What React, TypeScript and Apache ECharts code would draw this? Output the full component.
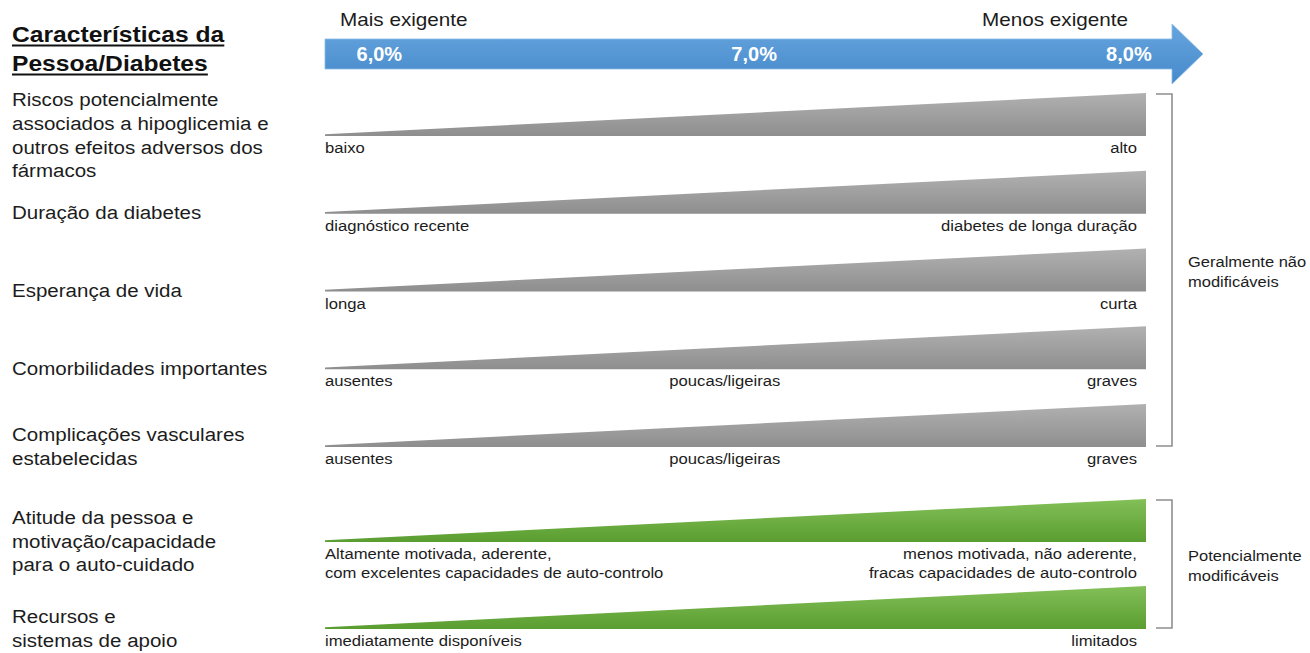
import React, { useEffect, useRef } from 'react';
import * as echarts from 'echarts';

// ---------- data ----------
const titleLines = ['Características da', 'Pessoa/Diabetes'];
const scaleEndLabels = ['Mais exigente', 'Menos exigente'];
const hba1cTicks = [6.0, 7.0, 8.0];
const hba1cRange = [5.855, 8.115];

const rowLabels = [
  'Riscos potencialmente\nassociados a hipoglicemia e\noutros efeitos adversos dos\nfármacos',
  'Duração da diabetes',
  'Esperança de vida',
  'Comorbilidades importantes',
  'Complicações vasculares\nestabelecidas',
  'Atitude da pessoa e\nmotivação/capacidade\npara o auto-cuidado',
  'Recursos e\nsistemas de apoio',
];
const lowLabels = [
  'baixo',
  'diagnóstico recente',
  'longa',
  'ausentes',
  'ausentes',
  'Altamente motivada, aderente,\ncom excelentes capacidades de auto-controlo',
  'imediatamente disponíveis',
];
const midLabels = ['', '', '', 'poucas/ligeiras', 'poucas/ligeiras', '', ''];
const highLabels = [
  'alto',
  'diabetes de longa duração',
  'curta',
  'graves',
  'graves',
  'menos motivada, não aderente,\nfracas capacidades de auto-controlo',
  'limitados',
];
const rowGroup = [0, 0, 0, 0, 0, 1, 1];
const groupLabels = ['Geralmente não\nmodificáveis', 'Potencialmente\nmodificáveis'];
const wedgeStart = [0.04, 0.04, 0.04, 0.04, 0.04, 0.04, 0.04];
const wedgeEnd = [1, 1, 1, 1, 1, 1, 1];

// ---------- layout / style ----------
const FONT = '"Liberation Sans", Arial, Helvetica, sans-serif';
const WEDGE_H = 43;
const LABEL_X = 12;
const MID_FRAC = 0.487;
const TEXT_COLOR = '#1c1c1c';
const groupColors = [
  ['#b1b1b1', '#8e8e8e'],
  ['#83c058', '#5a9d30'],
];

function measure(text: string, font: string) {
  const c = document.createElement('canvas').getContext('2d') as CanvasRenderingContext2D;
  c.font = font;
  return c.measureText(text).width;
}

function wedgeRender(group: number, rows: number[]) {
  return (params: any, api: any) => {
    const k = params.dataIndex;
    const gi = rows[k];
    const band = api.size([0, 1])[1];
    const c0 = api.coord([0, k]);
    const c1 = api.coord([api.value(0), k]);
    const bottom = c0[1] + band / 2;
    const x0 = c0[0];
    const x1 = c1[0];
    const [cTop, cBot] = groupColors[group];
    const children: any[] = [
      {
        type: 'polygon',
        shape: {
          points: [
            [x0, bottom - WEDGE_H * wedgeStart[gi]],
            [x1, bottom - WEDGE_H * wedgeEnd[gi]],
            [x1, bottom],
            [x0, bottom],
          ],
        },
        style: {
          fill: new echarts.graphic.LinearGradient(0, 0, 0, 1, [
            { offset: 0, color: cTop },
            { offset: 1, color: cBot },
          ]),
        },
      },
      {
        type: 'text',
        x: LABEL_X,
        y: bottom - 1,
        scaleX: 1.08,
        style: {
          text: rowLabels[gi],
          fill: TEXT_COLOR,
          fontSize: 19,
          fontFamily: FONT,
          lineHeight: 23.7,
          align: 'left',
          verticalAlign: 'middle',
        },
      },
      {
        type: 'text',
        x: x0,
        y: bottom + 2.5,
        scaleX: 1.11,
        style: {
          text: lowLabels[gi],
          fill: TEXT_COLOR,
          fontSize: 15,
          fontFamily: FONT,
          lineHeight: 19,
          align: 'left',
          verticalAlign: 'top',
        },
      },
      {
        type: 'text',
        x: x1 - 9,
        y: bottom + 2.5,
        scaleX: 1.11,
        style: {
          text: highLabels[gi],
          fill: TEXT_COLOR,
          fontSize: 15,
          fontFamily: FONT,
          lineHeight: 19,
          align: 'right',
          verticalAlign: 'top',
        },
      },
    ];
    if (midLabels[gi]) {
      children.push({
        type: 'text',
        x: x0 + (x1 - x0) * MID_FRAC,
        y: bottom + 2.5,
        scaleX: 1.11,
        style: {
          text: midLabels[gi],
          fill: TEXT_COLOR,
          fontSize: 15,
          fontFamily: FONT,
          lineHeight: 19,
          align: 'center',
          verticalAlign: 'top',
        },
      });
    }
    return { type: 'group', children };
  };
}

function bracketRender(group: number, count: number) {
  return (params: any, api: any) => {
    const band = api.size([0, 1])[1];
    const first = api.coord([1, 0]);
    const last = api.coord([1, count - 1]);
    const yTop = first[1] + band / 2 - WEDGE_H + 1;
    const yBot = last[1] + band / 2 - 1;
    const x1 = first[0];
    return {
      type: 'group',
      children: [
        {
          type: 'polyline',
          shape: {
            points: [
              [x1 + 10, yTop],
              [x1 + 26, yTop],
              [x1 + 26, yBot],
              [x1 + 10, yBot],
            ],
          },
          style: { stroke: '#8f8f8f', lineWidth: 1.6, fill: 'none' },
        },
        {
          type: 'text',
          x: x1 + 42,
          y: (yTop + yBot) / 2 + 2,
          scaleX: 1.1,
          style: {
            text: groupLabels[group],
            fill: TEXT_COLOR,
            fontSize: 15,
            fontFamily: FONT,
            lineHeight: 19.5,
            align: 'left',
            verticalAlign: 'middle',
          },
        },
      ],
    };
  };
}

function arrowRender(params: any, api: any) {
  const a = api.coord([api.value(0), 1]);
  const b = api.coord([api.value(1), 0]);
  const x0 = a[0];
  const x1 = b[0];
  const yTop = a[1];
  const yBot = b[1];
  const mid = (yTop + yBot) / 2;
  return {
    type: 'polygon',
    shape: {
      points: [
        [x0, yTop],
        [x1, yTop],
        [x1, mid - 30],
        [x1 + 31, mid],
        [x1, mid + 30],
        [x1, yBot],
        [x0, yBot],
      ],
    },
    style: {
      fill: new echarts.graphic.LinearGradient(0, 0, 0, 1, [
        { offset: 0, color: '#66a5de' },
        { offset: 1, color: '#4689cb' },
      ]),
      stroke: '#8bbbe6',
      lineWidth: 0.8,
    },
  };
}

export default function App() {
  const ref = useRef<HTMLDivElement>(null);

  useEffect(() => {
    if (!ref.current) return;
    const chart = echarts.init(ref.current, undefined, { renderer: 'svg' });

    const rows0 = rowGroup.map((g, i) => (g === 0 ? i : -1)).filter((i) => i >= 0);
    const rows1 = rowGroup.map((g, i) => (g === 1 ? i : -1)).filter((i) => i >= 0);

    const TITLE_FS = 22;
    const TITLE_SX = 1.12;
    const titleFont = `bold ${TITLE_FS}px ${FONT}`;
    const titleW = titleLines.map((t) => measure(t, titleFont) * TITLE_SX);

    const fmt = (v: number) => v.toFixed(1).replace('.', ',') + '%';

    const option: any = {
      animation: false,
      backgroundColor: '#ffffff',
      grid: [
        // gray rows: band bottom == wedge bottom
        { left: 325, width: 821, top: 58.25, height: 388.75 },
        // green rows
        { left: 325, width: 821, top: 455, height: 174 },
        // HbA1c arrow
        { left: 325, width: 847, top: 39, height: 30 },
      ],
      xAxis: [
        { gridIndex: 0, type: 'value', min: 0, max: 1, show: false },
        { gridIndex: 1, type: 'value', min: 0, max: 1, show: false },
        {
          gridIndex: 2,
          type: 'value',
          min: hba1cRange[0],
          max: hba1cRange[1],
          z: 10,
          axisLine: { show: false },
          axisTick: { show: false },
          splitLine: { show: false },
          axisLabel: {
            inside: true,
            margin: 15,
            verticalAlign: 'middle',
            customValues: hba1cTicks,
            showMinLabel: true,
            showMaxLabel: true,
            hideOverlap: false,
            formatter: (v: number) =>
              hba1cTicks.some((t) => Math.abs(t - v) < 1e-6) ? fmt(v) : '',
            color: '#ffffff',
            fontSize: 20,
            fontWeight: 'bold',
            fontFamily: FONT,
          },
        },
      ],
      yAxis: [
        { gridIndex: 0, type: 'category', inverse: true, data: rows0.map((i) => rowLabels[i]), show: false },
        { gridIndex: 1, type: 'category', inverse: true, data: rows1.map((i) => rowLabels[i]), show: false },
        { gridIndex: 2, type: 'value', min: 0, max: 1, show: false },
      ],
      series: [
        {
          type: 'custom',
          xAxisIndex: 2,
          yAxisIndex: 2,
          z: 1,
          clip: false,
          data: [[hba1cRange[0], hba1cRange[1]]],
          encode: { x: [0, 1] },
          renderItem: arrowRender,
        },
        {
          type: 'custom',
          xAxisIndex: 0,
          yAxisIndex: 0,
          clip: false,
          data: rows0.map((gi, k) => [wedgeEnd[gi], k]),
          encode: { x: 0, y: 1 },
          renderItem: wedgeRender(0, rows0),
        },
        {
          type: 'custom',
          xAxisIndex: 1,
          yAxisIndex: 1,
          clip: false,
          data: rows1.map((gi, k) => [wedgeEnd[gi], k]),
          encode: { x: 0, y: 1 },
          renderItem: wedgeRender(1, rows1),
        },
        {
          type: 'custom',
          xAxisIndex: 0,
          yAxisIndex: 0,
          clip: false,
          data: [[1, 0]],
          encode: { x: 0, y: 1 },
          renderItem: bracketRender(0, rows0.length),
        },
        {
          type: 'custom',
          xAxisIndex: 1,
          yAxisIndex: 1,
          clip: false,
          data: [[1, 0]],
          encode: { x: 0, y: 1 },
          renderItem: bracketRender(1, rows1.length),
        },
      ],
      graphic: [
        {
          type: 'text',
          x: 12,
          y: 34,
          scaleX: TITLE_SX,
          style: {
            text: titleLines[0],
            fill: '#111111',
            fontSize: TITLE_FS,
            fontWeight: 'bold',
            fontFamily: FONT,
            align: 'left',
            verticalAlign: 'middle',
          },
        },
        {
          type: 'line',
          shape: { x1: 12, y1: 45.5, x2: 12 + titleW[0], y2: 45.5 },
          style: { stroke: '#111111', lineWidth: 2 },
        },
        {
          type: 'text',
          x: 12,
          y: 63,
          scaleX: TITLE_SX,
          style: {
            text: titleLines[1],
            fill: '#111111',
            fontSize: TITLE_FS,
            fontWeight: 'bold',
            fontFamily: FONT,
            align: 'left',
            verticalAlign: 'middle',
          },
        },
        {
          type: 'line',
          shape: { x1: 12, y1: 74.5, x2: 12 + titleW[1], y2: 74.5 },
          style: { stroke: '#111111', lineWidth: 2 },
        },
        {
          type: 'text',
          x: 340,
          y: 20,
          scaleX: 1.15,
          style: {
            text: scaleEndLabels[0],
            fill: TEXT_COLOR,
            fontSize: 18,
            fontFamily: FONT,
            align: 'left',
            verticalAlign: 'middle',
          },
        },
        {
          type: 'text',
          x: 1128,
          y: 20,
          scaleX: 1.15,
          style: {
            text: scaleEndLabels[1],
            fill: TEXT_COLOR,
            fontSize: 18,
            fontFamily: FONT,
            align: 'right',
            verticalAlign: 'middle',
          },
        },
      ],
    };

    chart.setOption(option);
    return () => chart.dispose();
  }, []);

  return (
    <div
      ref={ref}
      style={{ position: 'absolute', left: 0, top: 0, width: 1310, height: 653, background: '#fff' }}
    />
  );
}
